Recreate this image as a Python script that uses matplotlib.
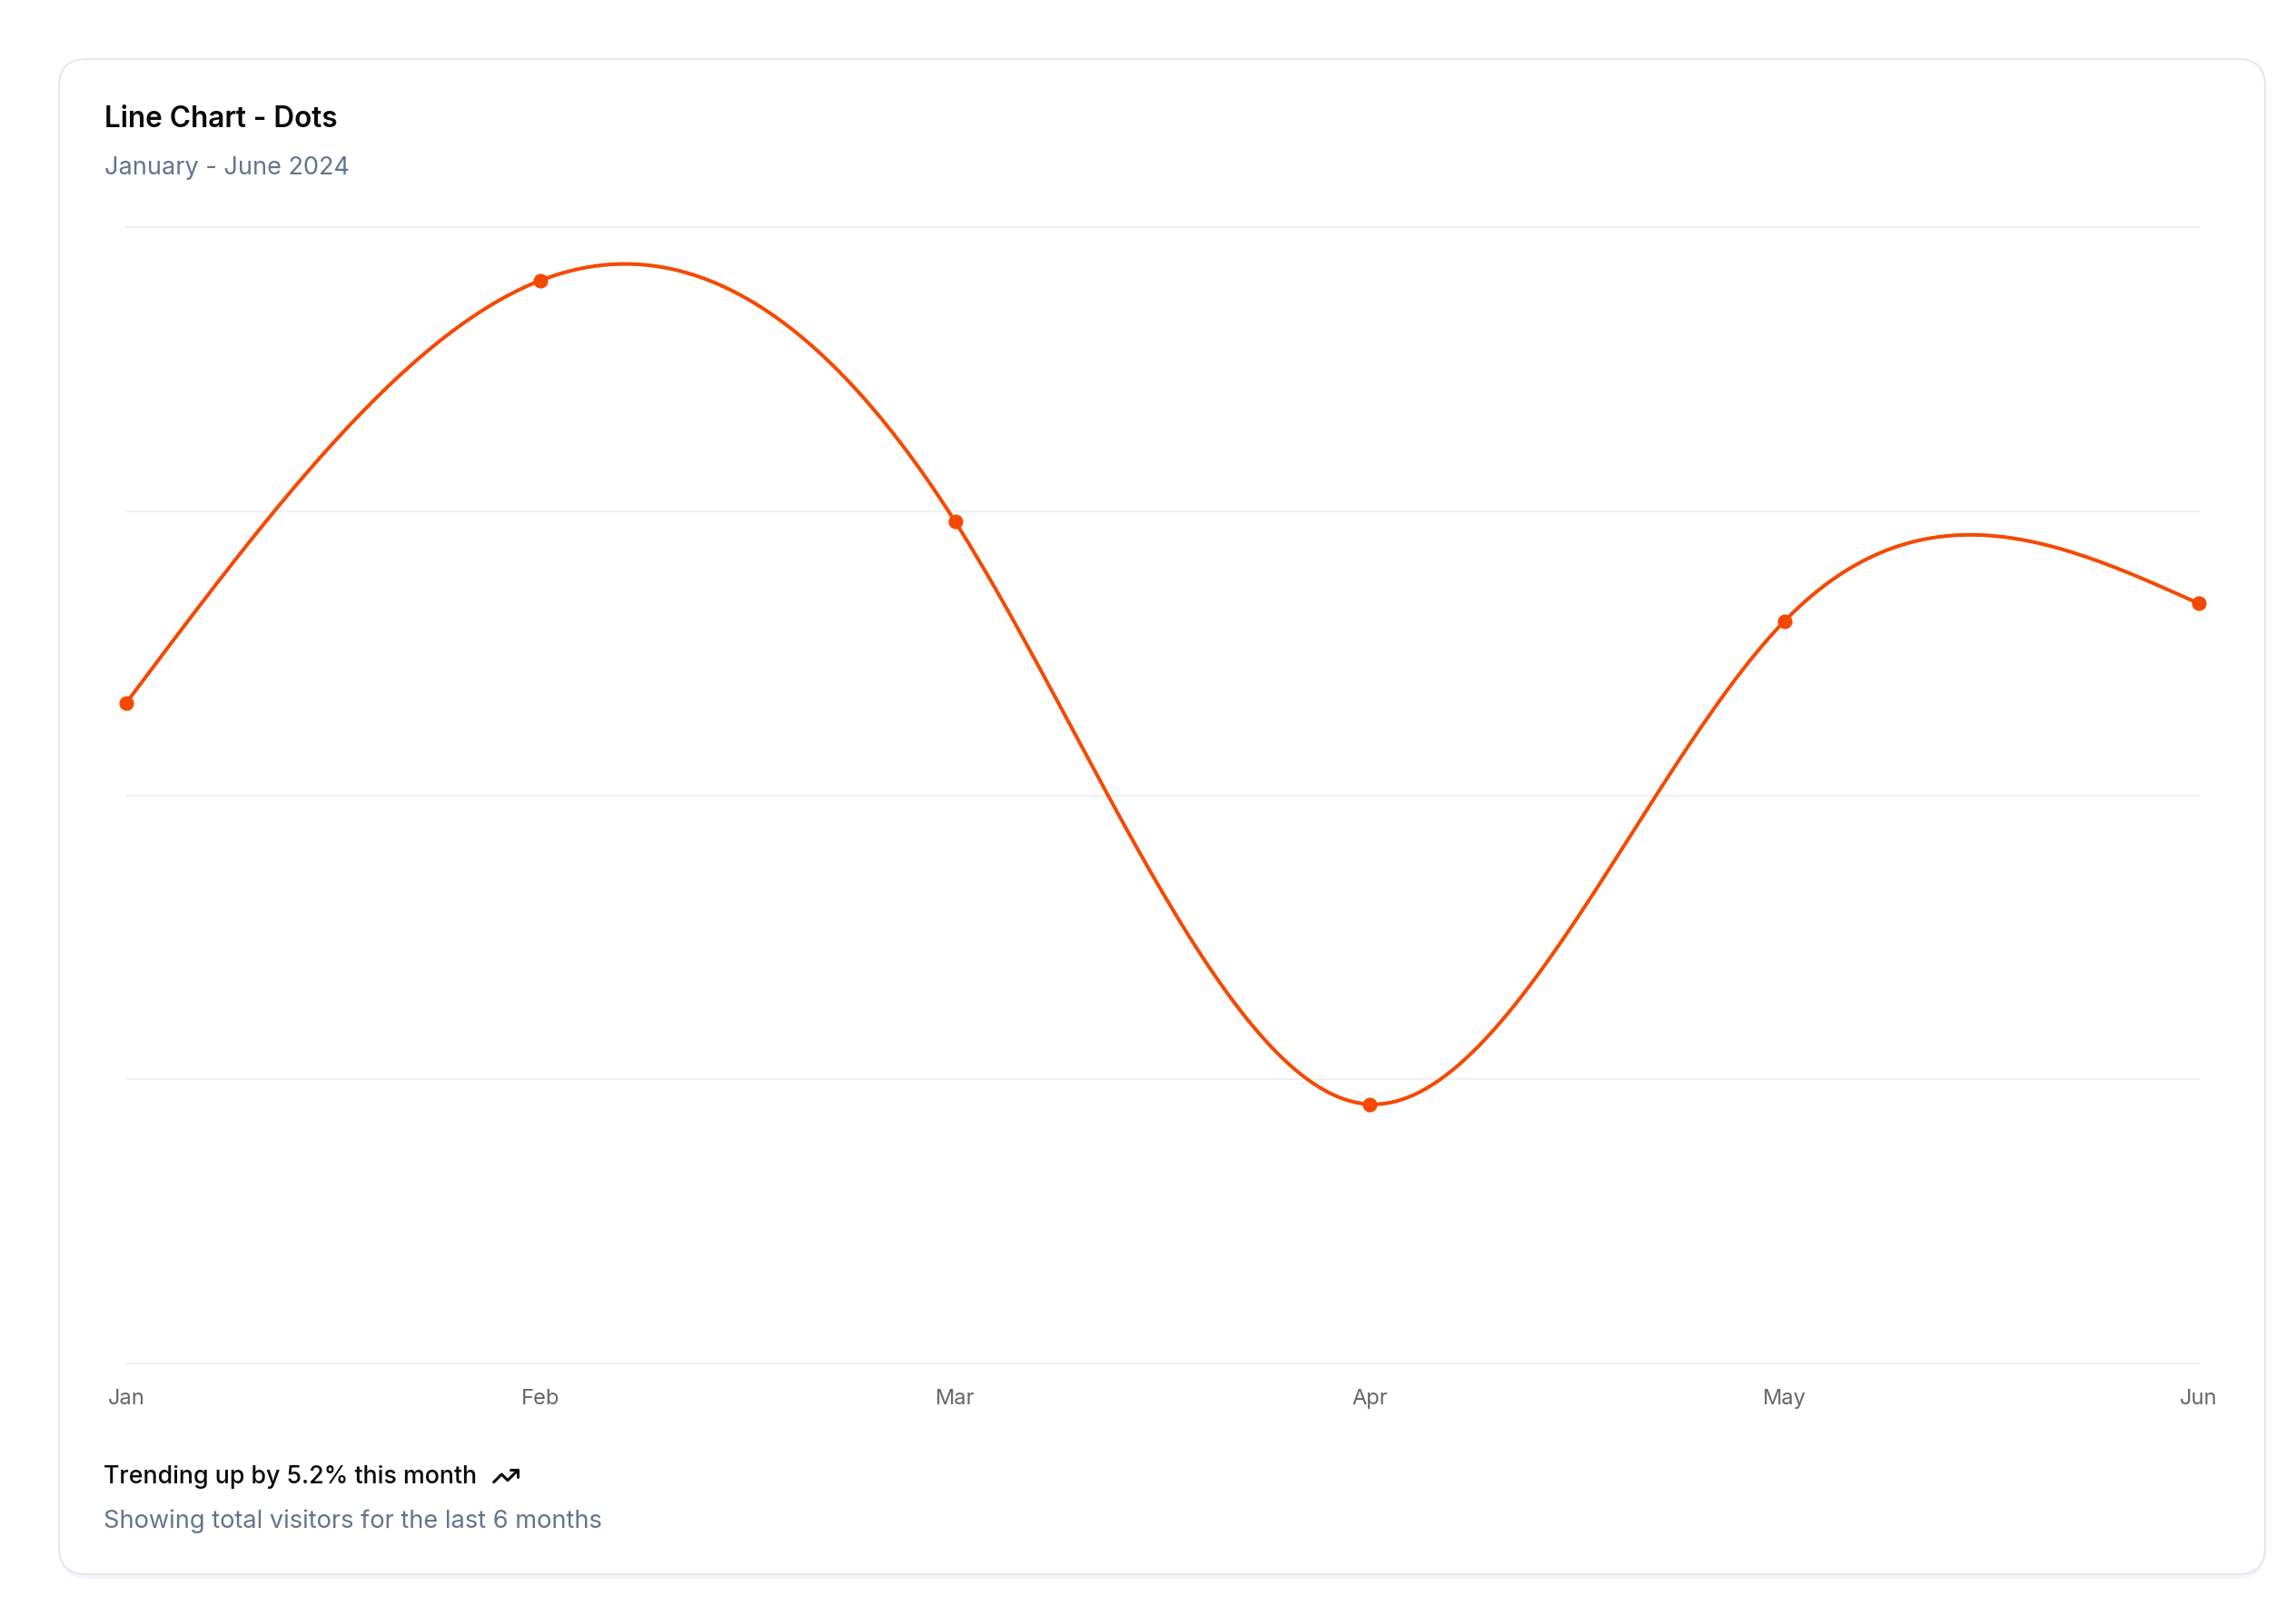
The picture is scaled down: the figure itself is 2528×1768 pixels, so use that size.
import numpy as np
import matplotlib.pyplot as plt
from matplotlib.patches import FancyBboxPatch

plt.rcParams['font.family'] = ['Inter', 'DejaVu Sans']

months = ["Jan", "Feb", "Mar", "Apr", "May", "Jun"]
desktop = [186, 305, 237, 73, 209, 214]
y_ticks = [0, 80, 160, 240, 320]

title = "Line Chart - Dots"
subtitle = "January - June 2024"
footer1 = "Trending up by 5.2% this month"
footer2 = "Showing total visitors for the last 6 months"

LINE = "#f54900"
MUTED = "#64748b"
DARK = "#0a0a0a"

W, H = 2528, 1768


def natural_spline(y, n=60):
    # natural cubic spline with unit spacing, like d3 curveNatural
    y = np.asarray(y, dtype=float)
    k = len(y)
    A = np.zeros((k, k))
    b = np.zeros(k)
    A[0, 0] = 1
    A[-1, -1] = 1
    for i in range(1, k - 1):
        A[i, i - 1] = 1
        A[i, i] = 4
        A[i, i + 1] = 1
        b[i] = 6 * (y[i + 1] - 2 * y[i] + y[i - 1])
    M = np.linalg.solve(A, b)
    xs, ys = [], []
    for i in range(k - 1):
        t = np.linspace(0, 1, n, endpoint=(i == k - 2))
        seg = ((1 - t) * y[i] + t * y[i + 1]
               + ((1 - t) ** 3 - (1 - t)) * M[i] / 6
               + (t ** 3 - t) * M[i + 1] / 6)
        xs.append(i + t)
        ys.append(seg)
    return np.concatenate(xs), np.concatenate(ys)


fig = plt.figure(figsize=(W / 100, H / 100), dpi=100)
fig.patch.set_facecolor("white")

# background layer in pixel coordinates
bg = fig.add_axes([0, 0, 1, 1], zorder=0)
bg.set_xlim(0, W)
bg.set_ylim(H, 0)
bg.axis("off")

shadow = FancyBboxPatch((66, 68), 2428, 1670, boxstyle="round,pad=0,rounding_size=30",
                        facecolor="#eef1f5", edgecolor="none", alpha=0.7)
bg.add_patch(shadow)
card = FancyBboxPatch((65, 65), 2429, 1668, boxstyle="round,pad=0,rounding_size=30",
                      facecolor="white", edgecolor="#e2e8f0", linewidth=1.5)
bg.add_patch(card)

bg.text(115, 140, title, fontsize=22.7, fontweight="semibold", color=DARK, va="baseline")
bg.text(115, 192, subtitle, fontsize=19.5, color=MUTED, va="baseline")
bg.text(114, 1633, footer1, fontsize=19.3, fontweight="medium", color=DARK, va="baseline")
bg.text(114, 1682, footer2, fontsize=19.6, color=MUTED, va="baseline")

# trending-up icon (lucide), 24 unit box scaled to 32 px
ix, iy, s = 541, 1609, 32 / 24
path1 = np.array([[22, 7], [13.5, 15.5], [8.5, 10.5], [2, 17]])
path2 = np.array([[16, 7], [22, 7], [22, 13]])
for p in (path1, path2):
    bg.plot(ix + p[:, 0] * s, iy + p[:, 1] * s, color=DARK, linewidth=2.2,
            solid_capstyle="round", solid_joinstyle="round")

# chart area
left, right, top, bottom = 139, 2421, 250, 1501
ax = fig.add_axes([left / W, 1 - bottom / H, (right - left) / W, (bottom - top) / H], zorder=1)
ax.patch.set_alpha(0)
x = np.arange(len(months))
ax.set_xlim(0, len(months) - 1)
ax.set_ylim(y_ticks[0], y_ticks[-1])

for v in y_ticks:
    ax.axhline(v, color="#edf0f4", linewidth=1.4, zorder=1, clip_on=False)

xs, ys = natural_spline(desktop)
ax.plot(xs, ys, color=LINE, linewidth=2.9, zorder=3, clip_on=False)
ax.scatter(x, desktop, s=135, color=LINE, zorder=4, clip_on=False, linewidths=0)

ax.set_xticks(x)
ax.set_xticklabels(months)
ax.set_yticks([])
ax.tick_params(axis="x", length=0, pad=20, labelsize=17, labelcolor="#666666")
for sp in ax.spines.values():
    sp.set_visible(False)

fig.savefig("out.png", dpi=100, facecolor="white")
